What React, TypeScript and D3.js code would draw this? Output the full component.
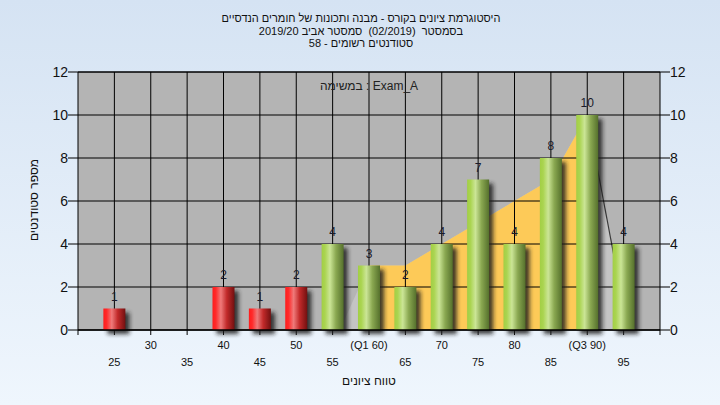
import React from "react";
import * as d3 from "d3";

const categories = [25, 30, 35, 40, 45, 50, 55, 60, 65, 70, 75, 80, 85, 90, 95];
const counts = [1, 0, 0, 2, 1, 2, 4, 3, 2, 4, 7, 4, 8, 10, 4];
const passMark = 55;
const tickLabels = ["25", "30", "35", "40", "45", "50", "55", "(Q1 60)", "65", "70", "75", "80", "85", "(Q3 90)", "95"];
const yTicks = [0, 2, 4, 6, 8, 10, 12];
const curveX = [56, 60, 65, 85, 90, 95.6];
const curveY = [0, 3, 3, 7, 10, 0];
const q1 = 60;
const q3 = 90;
const titleLines = [
  "היסטוגרמת ציונים בקורס - מבנה ותכונות של חומרים הנדסיים",
  "בסמסטר  (02/2019)  סמסטר אביב 2019/20",
  "סטודנטים רשומים - 58",
];
const examLabel = "במשימה : Exam_A";
const xTitle = "טווח ציונים";
const yTitle = "מספר סטודנטים";

const W = 720, H = 405;
const L = 78, R = 660, T = 72, B = 330;
const FONT = "'Liberation Sans', Arial, sans-serif";

export default function App() {
  const x = d3.scaleLinear().domain([20, 100]).range([L, R]);
  const y = d3.scaleLinear().domain([0, 12]).range([B, T]);
  const barW = 22;

  const pts: [number, number][] = curveX.map((v, i) => [v, curveY[i]]);
  const area = d3.area<[number, number]>().x(d => x(d[0])).y0(B).y1(d => y(d[1]));
  const fullPath = area(pts) || "";
  const rightLine = d3.line<[number, number]>().x(d => x(d[0])).y(d => y(d[1]))(pts.slice(4)) || "";

  return (
    <svg width={W} height={H} style={{ position: "absolute", left: 0, top: 0 }} fontFamily={FONT}>
      <defs>
        <linearGradient id="bg" x1="0" y1="0" x2="0" y2="1">
          <stop offset="0" stopColor="#d5e3f3" />
          <stop offset="1" stopColor="#eff6fd" />
        </linearGradient>
        <linearGradient id="red" x1="0" y1="0" x2="1" y2="0">
          <stop offset="0" stopColor="#ff1c1c" />
          <stop offset="0.15" stopColor="#ff2a2a" />
          <stop offset="0.38" stopColor="#ef7a7a" />
          <stop offset="0.65" stopColor="#c22a2a" />
          <stop offset="1" stopColor="#721010" />
        </linearGradient>
        <linearGradient id="green" x1="0" y1="0" x2="1" y2="0">
          <stop offset="0" stopColor="#a2cf45" />
          <stop offset="0.15" stopColor="#aad450" />
          <stop offset="0.38" stopColor="#cbe596" />
          <stop offset="0.65" stopColor="#8aa851" />
          <stop offset="1" stopColor="#55702c" />
        </linearGradient>
        <filter id="shadow" x="-50%" y="-50%" width="200%" height="200%">
          <feGaussianBlur stdDeviation="2" />
        </filter>
        <clipPath id="mid">
          <rect x={x(q1)} y={T} width={x(q3) - x(q1)} height={B - T} />
        </clipPath>
      </defs>
      <rect x={0} y={0} width={W} height={H} fill="url(#bg)" />

      {titleLines.map((t, i) => (
        <text key={i} x={361} y={22 + i * 12.5} textAnchor="middle" direction="rtl" fontSize={11} fill="#111" style={{ whiteSpace: "pre" }}>{t}</text>
      ))}

      <rect x={L} y={T} width={R - L} height={B - T} fill="#b4b4b4" />
      <path d={fullPath} fill="#c4c4c4" />
      <path d={fullPath} fill="#fdca58" clipPath="url(#mid)" />
      <path d={rightLine} fill="none" stroke="#3a3a3a" strokeWidth={1.2} />

      {yTicks.map(t => (
        <g key={t}>
          <line x1={L - 10} x2={R + 10} y1={y(t)} y2={y(t)} stroke="#000" strokeWidth={1} />
          <text x={L - 10} y={y(t) + 5} textAnchor="end" fontSize={14} fill="#111">{t}</text>
          <text x={R + 10} y={y(t) + 5} textAnchor="start" fontSize={14} fill="#111">{t}</text>
        </g>
      ))}
      {categories.map(c => (
        <line key={c} x1={x(c)} x2={x(c)} y1={T} y2={B + 5} stroke="#000" strokeWidth={1} />
      ))}
      <line x1={L} x2={L} y1={T} y2={B + 5} stroke="#000" />
      <line x1={R} x2={R} y1={T} y2={B + 5} stroke="#000" />

      <text x={369} y={90} textAnchor="middle" fontSize={12} fill="#222">{examLabel}</text>

      {categories.map((c, i) => counts[i] > 0 ? (
        <rect key={"s" + c} x={x(c) - barW / 2 + 4} y={y(counts[i]) + 4} width={barW} height={B - y(counts[i])} fill="#1e1e1e" opacity={0.85} filter="url(#shadow)" />
      ) : null)}
      {categories.map((c, i) => counts[i] > 0 ? (
        <g key={"b" + c}>
          <rect x={x(c) - barW / 2} y={y(counts[i])} width={barW} height={B - y(counts[i])} fill={c < passMark ? "url(#red)" : "url(#green)"} />
          <text x={x(c)} y={y(counts[i]) - 8} textAnchor="middle" fontSize={12} fill="#1a1a2a">{counts[i]}</text>
        </g>
      ) : null)}

      <line x1={L} x2={R} y1={B} y2={B} stroke="#000" strokeWidth={1.5} />
      <line x1={L} x2={R} y1={T} y2={T} stroke="#000" strokeWidth={1} />

      {categories.map((c, i) => (
        <text key={"xl" + c} x={x(c)} y={i % 2 === 1 ? 349 : 366} textAnchor="middle" fontSize={11} fill="#111">{tickLabels[i]}</text>
      ))}

      <text x={369} y={385} textAnchor="middle" direction="rtl" fontSize={12} fill="#111">{xTitle}</text>
      <text transform="translate(38,200) rotate(-90)" textAnchor="middle" direction="rtl" fontSize={12} fill="#111">{yTitle}</text>
    </svg>
  );
}
